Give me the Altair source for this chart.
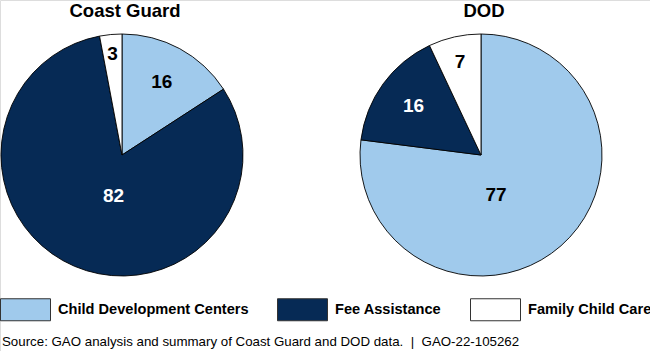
import altair as alt
import pandas as pd

# ---- data ----
agencies = ["Coast Guard", "DOD"]
categories = ["Child Development Centers", "Fee Assistance", "Family Child Care"]
coast_guard_values = [16, 82, 3]
dod_values = [77, 16, 7]
source_note = "Source: GAO analysis and summary of Coast Guard and DOD data.\u00a0\u00a0|\u00a0\u00a0GAO-22-105262"

colors = ["#A0CAEC", "#062A55", "#FFFFFF"]
FONT = "Liberation Sans, Arial, sans-serif"
R = 121

rows = []
for agency, vals in zip(agencies, [coast_guard_values, dod_values]):
    for i, (cat, v) in enumerate(zip(categories, vals)):
        rows.append({"agency": agency, "category": cat, "value": v, "order": i})
df = pd.DataFrame(rows)

color_scale = alt.Scale(domain=categories, range=colors)

legend = alt.Legend(
    title=None, orient="none", legendX=0, legendY=284, direction="horizontal",
    symbolType="M-1,-0.44H1V0.44H-1Z", symbolSize=2500,
    symbolStrokeColor="#333333", symbolStrokeWidth=1, symbolOpacity=1,
    labelFont=FONT, labelFontSize=14.6, labelFontWeight="bold", labelColor="black",
    labelOffset=7, columnPadding=26, labelLimit=400,
)


def pie(agency, cx, cy):
    arcs = alt.Chart(df).transform_filter(alt.datum.agency == agency).mark_arc(
        radius=R, stroke="black", strokeWidth=0.9
    ).encode(
        theta=alt.Theta("value:Q", stack=True),
        order=alt.Order("order:Q", sort="ascending"),
        color=alt.Color("category:N", scale=color_scale, legend=legend,
                        sort=categories),
        x=alt.value(cx), y=alt.value(cy),
    )
    labels = alt.Chart(df).transform_filter(
        alt.datum.agency == agency
    ).transform_joinaggregate(
        total="sum(value)"
    ).transform_window(
        cum="sum(value)", sort=[alt.SortField("order")]
    ).transform_calculate(
        mid="2*PI*(datum.cum - datum.value/2)/datum.total",
    ).transform_calculate(
        ang="datum.value > 50 ? (datum.mid + PI)/2 : datum.mid",
        lr=f"datum.value < 5 ? {R*0.84} : datum.value < 10 ? {R*0.79} : datum.value < 30 ? {R*0.69} : {R*0.35}",
    ).mark_text(font=FONT, fontSize=19, fontWeight="bold", baseline="middle",
                align="center").encode(
        text=alt.Text("value:Q"),
        theta=alt.Theta("ang:Q", scale=None),
        radius=alt.Radius("lr:Q", scale=None),
        color=alt.condition(alt.datum.category == categories[1],
                            alt.value("white"), alt.value("black")),
        x=alt.value(cx), y=alt.value(cy),
    )
    title = alt.Chart(pd.DataFrame({"t": [agency]})).mark_text(
        font=FONT, fontSize=18.5, fontWeight="bold", baseline="middle", align="center",
        color="black",
    ).encode(text="t:N", x=alt.value(cx + 3), y=alt.value(11))
    return alt.layer(arcs, labels, title)


source = alt.Chart(pd.DataFrame({"t": [source_note]})).mark_text(
    font=FONT, fontSize=13.3, baseline="middle", align="left", color="black"
).encode(text="t:N", x=alt.value(2), y=alt.value(342))

chart = alt.layer(
    pie("Coast Guard", 122, 155),
    pie("DOD", 481, 155),
    source,
).resolve_scale(theta="independent").properties(
    width=650, height=351, padding=0, autosize=alt.AutoSizeParams(type="none"),
).configure_view(stroke=None).configure(background="white")

chart.save("out.html", embed_options={"renderer": "svg", "actions": False})
